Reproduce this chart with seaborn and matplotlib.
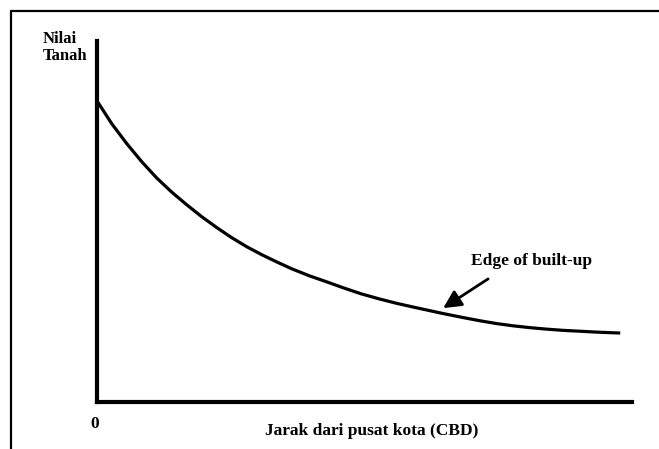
import matplotlib
matplotlib.use("Agg")
import matplotlib.pyplot as plt
from matplotlib.lines import Line2D
import seaborn as sns
import pandas as pd

# Distance from CBD (arbitrary units) and land value (arbitrary units)
distance = [0.00, 0.28, 0.56, 0.84, 1.12, 1.40, 1.68, 1.96, 2.24, 2.52, 2.80,
            3.08, 3.36, 3.64, 3.98, 4.30, 4.60, 4.93, 5.29, 5.61, 5.91, 6.19,
            6.47, 6.84, 7.16, 7.48, 7.78, 8.09, 8.39, 8.71, 9.35, 9.78]
land_value = [8.34, 7.70, 7.15, 6.65, 6.20, 5.81, 5.46, 5.13, 4.83, 4.55, 4.30,
              4.08, 3.88, 3.69, 3.49, 3.325, 3.165, 3.00, 2.85, 2.73, 2.63, 2.54,
              2.45, 2.34, 2.25, 2.17, 2.11, 2.06, 2.02, 1.985, 1.935, 1.91]

y_label = "Nilai\nTanah"
x_label = "Jarak dari pusat kota (CBD)"
origin_label = "0"
annot_text = "Edge of built-up"
arrow_tip = (6.47, 2.60)
arrow_tail = (7.31, 3.41)
annot_text_pos = (8.13, 3.91)

df = pd.DataFrame({"distance": distance, "value": land_value})

sns.set_theme(style="white")
plt.rcParams["font.family"] = ["Liberation Serif", "DejaVu Serif"]
plt.rcParams["text.color"] = "black"

W, H = 659, 449
fig = plt.figure(figsize=(W / 100, H / 100), dpi=100)
ax = fig.add_axes([97 / W, (H - 402) / H, 535 / W, 361 / H])

sns.lineplot(data=df, x="distance", y="value", ax=ax, color="black",
             linewidth=2.3, sort=True, solid_joinstyle="round",
             solid_capstyle="butt")

ax.set_xlim(0, 10)
ax.set_ylim(0, 10)
ax.set_xticks([])
ax.set_yticks([])
ax.set_xlabel("")
ax.set_ylabel("")
for side in ["top", "right"]:
    ax.spines[side].set_visible(False)
for side in ["left", "bottom"]:
    ax.spines[side].set_visible(True)
    ax.spines[side].set_color("black")
    ax.spines[side].set_linewidth(3.0)

ax.annotate("", xy=arrow_tip, xytext=arrow_tail, textcoords="data",
            arrowprops=dict(arrowstyle="-|>,head_length=0.9,head_width=0.45",
                            color="black", lw=2.0, shrinkA=0, shrinkB=0))
ax.text(annot_text_pos[0], annot_text_pos[1], annot_text, fontsize=12.5,
        fontweight="bold", ha="center", va="center", color="black")

fig.text(43 / W, 1 - 31 / H, y_label, fontsize=12, fontweight="bold",
         ha="left", va="top", linespacing=1.1, color="black")
fig.text(95 / W, 1 - 424 / H, origin_label, fontsize=12.5, fontweight="bold",
         ha="center", va="center", color="black")
fig.text(372 / W, 1 - 431 / H, x_label, fontsize=12.5, fontweight="bold",
         ha="center", va="center", color="black")

# outer frame (top and left edges)
fig.add_artist(Line2D([11 / W, 1.0], [1 - 11 / H, 1 - 11 / H], color="black",
                      lw=1.6, transform=fig.transFigure))
fig.add_artist(Line2D([11 / W, 11 / W], [1 - 11 / H, 0.0], color="black",
                      lw=1.6, transform=fig.transFigure))

fig.savefig("out.png", dpi=100)
